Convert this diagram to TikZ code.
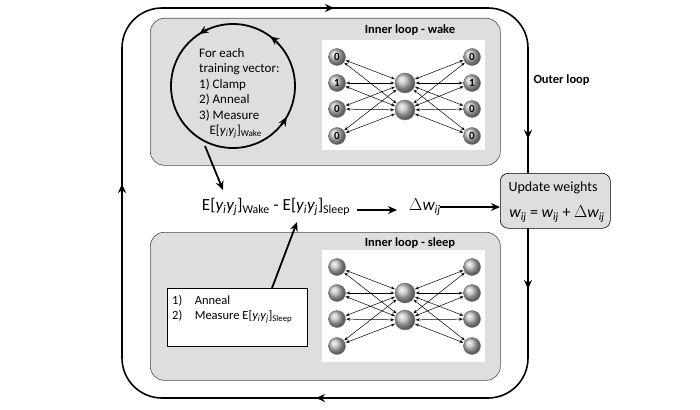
\documentclass[tikz,border=0pt]{standalone}
\usepackage{fontspec}
\setmainfont{Carlito}
\usetikzlibrary{arrows.meta}
\begin{document}
\begin{tikzpicture}[x=1pt,y=-1pt,
  panel/.style={draw=black!70,fill=black!13,rounded corners=14pt,line width=0.6pt},
  ball/.style={circle,ball color=black!25,draw=black!55,inner sep=0pt,minimum size=#1,font=\bfseries\fontsize{11}{11}\selectfont},
  ball/.default=17pt,
  net/.style={{Stealth[length=4pt,width=3pt]}-{Stealth[length=4pt,width=3pt]},line width=0.5pt,shorten <=0.5pt,shorten >=0.5pt},
  tip/.style={-{Stealth[length=9pt,width=8pt]},line width=1.6pt},
  thick arrow/.style={-{Stealth[length=9pt,width=8pt]},line width=1.8pt},
  title/.style={font=\bfseries\fontsize{12.5}{14}\selectfont}
]
\useasboundingbox (0,0) rectangle (700,409);
% outer loop
\draw[line width=1.6pt,rounded corners=40pt]
  (122,200) -- (122,8) -- (528,8) -- (528,398) -- (122,398) -- cycle;
\draw[tip] (320,8) -- (334,8);
\draw[tip] (528,125) -- (528,139);
\draw[tip] (528,275) -- (528,289);
\draw[tip] (330,398) -- (316,398);
\draw[tip] (122,198) -- (122,184);
\node[title,anchor=west] (ol) at (530,80) {Outer loop};
% wake panel
\node[panel,minimum width=350pt,minimum height=147pt,anchor=north west] (wake) at (150,18) {};
\node[title] (wt) at (410,30) {Inner loop - wake};
\node[fill=white,minimum width=163pt,minimum height=110pt,anchor=north west,inner sep=0pt] (wn) at (322,40) {};
% sleep panel
\node[panel,minimum width=350pt,minimum height=148pt,anchor=north west] (sleep) at (150,232) {};
\node[title] (st) at (410,243) {Inner loop - sleep};
\node[fill=white,minimum width=163pt,minimum height=112pt,anchor=north west,inner sep=0pt] (sn) at (322,250) {};
% networks
\foreach \p/\oy in {w/0,s/210}{
  \foreach \y [count=\i] in {57,83,109,136}{
    \node[ball] (\p l\i) at (337,\y+\oy) {};
    \node[ball] (\p r\i) at (472,\y+\oy) {};
  }
  \node[ball=20pt] (\p m1) at (405,83+\oy) {};
  \node[ball=20pt] (\p m2) at (405,110+\oy) {};
  \foreach \i in {1,...,4}{\foreach \j in {1,2}{
    \draw[net] (\p l\i) -- (\p m\j);
    \draw[net] (\p m\j) -- (\p r\i);
  }}
}
\foreach \i/\t in {1/0,2/1,3/0,4/0}{
  \node[font=\bfseries\fontsize{11}{11}\selectfont] at (wl\i) {\t};
  \node[font=\bfseries\fontsize{11}{11}\selectfont] at (wr\i) {\t};
}
% circle loop
\coordinate (cc) at (233,86);
\draw[line width=1.8pt] (cc) circle[radius=62];
\foreach \a in {237,307,30}{
  \draw[tip,line width=1.8pt] ([shift={(\a+10:62)}]cc) arc[start angle=\a+10,end angle=\a,radius=62];
}
\node[align=left,anchor=north west,font=\fontsize{13}{15.5}\selectfont,inner sep=0pt] (ct) at (199,48)
  {For each\\training vector:\\1) Clamp\\2) Anneal\\3) Measure\\\hspace*{0.8em}E[\textit{y\textsubscript{i}y\textsubscript{j}}]\textsubscript{Wake}};
% equation
\node[font=\fontsize{17}{19}\selectfont,inner sep=1pt] (eq) at (276,207)
  {E[\textit{y\textsubscript{i}y\textsubscript{j}}]\textsubscript{Wake} - E[\textit{y\textsubscript{i}y\textsubscript{j}}]\textsubscript{Sleep}};
\node[font=\fontsize{17}{19}\selectfont,inner sep=1pt] (dw) at (425,207) {$\Delta$\textit{w\textsubscript{ij}}};
\node[panel,draw=black,rounded corners=8pt,minimum width=110pt,minimum height=55pt,anchor=north west] (up) at (500,173) {};
\node[font=\fontsize{14}{16}\selectfont] (ut) at (553,188) {Update weights};
\node[font=\fontsize{16}{18}\selectfont] (ue) at (557,214) {\textit{w\textsubscript{ij}} = \textit{w\textsubscript{ij}} + $\Delta$\textit{w\textsubscript{ij}}};
\coordinate (cb) at (205,146);
\draw[thick arrow] (cb) -- (223,190);
\coordinate (e1) at (357,210);
\draw[thick arrow] (e1) -- (397,210);
\coordinate (e2) at (440,207);
\draw[thick arrow] (e2) -- (500,207);
% sleep text box
\node[draw=black,fill=white,line width=1pt,minimum width=140pt,minimum height=58pt,anchor=north west] (sb) at (167,288) {};
\node[align=left,anchor=north west,font=\fontsize{12.5}{15}\selectfont,inner sep=0pt] (stt) at (172,295)
  {1)\hspace{1em}Anneal\\2)\hspace{1em}Measure E[\textit{y\textsubscript{i}y\textsubscript{j}}]\textsubscript{Sleep}};
\coordinate (sa) at (272,288);
\draw[thick arrow] (sa) -- (297,222);
\end{tikzpicture}
\end{document}
